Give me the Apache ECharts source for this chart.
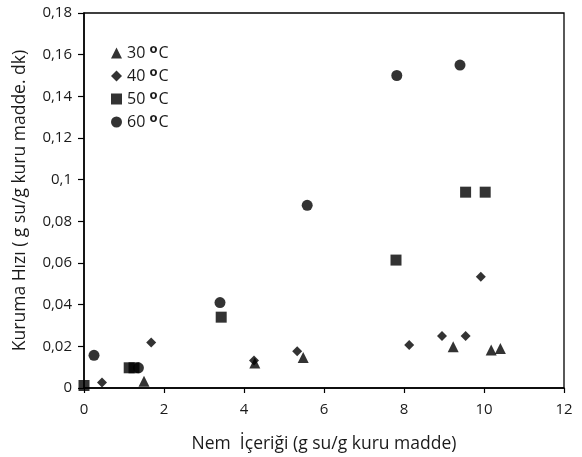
<!DOCTYPE html>
<html>
<head>
<meta charset="utf-8">
<script src="https://cdn.jsdelivr.net/npm/echarts@6/dist/echarts.min.js"></script>
<style>
  html, body { margin: 0; padding: 0; background: #fff; }
  #chart { width: 582px; height: 457px; }
</style>
</head>
<body>
<div id="chart"></div>
<script>
// Drying rate vs. moisture content at four temperatures
const seriesNames = ['30', '40', '50', '60'];
const symbols = ['triangle', 'diamond', 'rect', 'circle'];

const t30 = [[1.5, 0.0033], [4.27, 0.012], [5.48, 0.0147], [9.23, 0.0198], [10.18, 0.0182], [10.41, 0.019]];
const t40 = [[0.45, 0.0027], [1.68, 0.0219], [4.25, 0.0132], [5.33, 0.0176], [8.13, 0.0206], [8.95, 0.025], [9.54, 0.025], [9.92, 0.0534]];
const t50 = [[0.0, 0.0012], [1.13, 0.0097], [1.25, 0.0097], [3.43, 0.034], [7.8, 0.0614], [9.54, 0.094], [10.03, 0.094]];
const t60 = [[0.25, 0.0157], [1.36, 0.0097], [3.4, 0.041], [5.58, 0.0877], [7.82, 0.150], [9.4, 0.155]];

const xTicks = [0, 2, 4, 6, 8, 10, 12];
const yTicks = [0, 0.02, 0.04, 0.06, 0.08, 0.1, 0.12, 0.14, 0.16, 0.18];

const allData = [t30, t40, t50, t60];
const symbolSizes = [11, 10, 11, 11];

const textColor = '#1a1a1a';
const fontFamily = '"Open Sans", sans-serif';

const chart = echarts.init(document.getElementById('chart'));
chart.setOption({
  animation: false,
  textStyle: { fontFamily: fontFamily, color: textColor },
  grid: {
    left: 84, right: 18, top: 13, bottom: 69,
    containLabel: false, outerBoundsMode: 'none',
    show: true, borderColor: '#000', borderWidth: 1.3, backgroundColor: 'transparent'
  },
  legend: {
    orient: 'vertical',
    left: 106, top: 38,
    itemWidth: 11, itemHeight: 11,
    itemGap: 5,
    data: seriesNames.map((n, i) => ({ name: n, icon: symbols[i] })),
    formatter: n => '{t|' + n + ' }{s|o}{t|C}',
    textStyle: {
      color: textColor,
      fontFamily: fontFamily,
      rich: {
        t: { fontSize: 16, color: textColor, fontFamily: fontFamily, lineHeight: 20 },
        s: { fontSize: 13, color: textColor, fontFamily: fontFamily, fontWeight: 'bold', verticalAlign: 'top', lineHeight: 9, padding: [0, 1, 0, 0] }
      }
    }
  },
  xAxis: {
    type: 'value',
    min: xTicks[0], max: xTicks[xTicks.length - 1], interval: 2,
    name: 'Nem  İçeriği (g su/g kuru madde)',
    nameLocation: 'middle', nameGap: 47,
    nameTextStyle: { fontSize: 17.5, color: textColor, fontFamily: fontFamily },
    axisLine: { lineStyle: { color: '#000', width: 1.5 } },
    axisTick: { inside: false, length: 5, lineStyle: { color: '#000', width: 1.2 } },
    axisLabel: { fontSize: 15, color: textColor, margin: 14 },
    splitLine: { show: false }
  },
  yAxis: {
    type: 'value',
    min: yTicks[0], max: yTicks[yTicks.length - 1], interval: 0.02,
    name: 'Kuruma Hızı ( g su/g kuru madde. dk)',
    nameLocation: 'middle', nameGap: 55,
    nameTextStyle: { fontSize: 17.5, color: textColor, fontFamily: fontFamily },
    axisLine: { show: true, lineStyle: { color: '#000', width: 1.5 } },
    axisTick: { show: true, inside: false, length: 6, lineStyle: { color: '#000', width: 1.2 } },
    axisLabel: {
      fontSize: 15, color: textColor, margin: 12,
      formatter: v => parseFloat(v.toFixed(2)).toString().replace('.', ',')
    },
    splitLine: { show: false }
  },
  series: allData.map((d, i) => ({
    name: seriesNames[i],
    type: 'scatter',
    symbol: symbols[i],
    symbolSize: symbolSizes[i],
    itemStyle: { color: '#000' },
    data: d
  }))
});
</script>
</body>
</html>
